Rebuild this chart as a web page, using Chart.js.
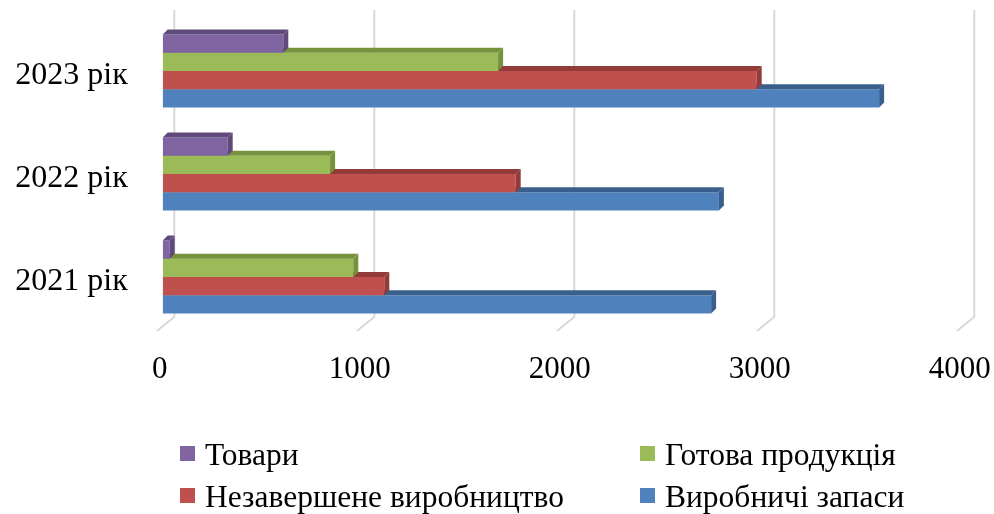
<!DOCTYPE html>
<html>
<head>
<meta charset="utf-8">
<script src="https://cdn.jsdelivr.net/npm/chart.js@4.4.0/dist/chart.umd.min.js"></script>
<style>
  html, body { margin: 0; padding: 0; background: #fff; }
</style>
</head>
<body>
<canvas id="chart" width="994" height="514"></canvas>
<script>
const years = ['2023 рік', '2022 рік', '2021 рік'];
const xTicks = [0, 1000, 2000, 3000, 4000];
const seriesNames = ['Товари', 'Готова продукція', 'Незавершене виробництво', 'Виробничі запаси'];
const tovary = [603, 325, 35];
const gotova = [1677, 837, 953];
const nezaversh = [2970, 1765, 1108];
const zapasy = [3582, 2781, 2742];
const colors = ['#8064A2', '#9BBB59', '#C0504D', '#4F81BD'];
const shades = ['#5F4A7B', '#76923C', '#923B39', '#3A5F8C'];

const FONT = '"Liberation Serif", "Times New Roman", serif';
const DX = 5, DY = 5;

// back-wall gridlines with a slanted floor segment
const grid3d = {
  id: 'grid3d',
  beforeDatasetsDraw(chart) {
    const ctx = chart.ctx;
    const sx = chart.scales.x;
    ctx.save();
    ctx.strokeStyle = '#D9D9D9';
    ctx.lineWidth = 2;
    xTicks.forEach(v => {
      const px = sx.getPixelForValue(v);
      ctx.beginPath();
      ctx.moveTo(px + 11.6, 10);
      ctx.lineTo(px + 11.6, 316.7);
      ctx.lineTo(px - 5.7, 331);
      ctx.stroke();
    });
    ctx.restore();
  }
};

// top and side faces for each bar
const bar3d = {
  id: 'bar3d',
  afterDatasetDraw(chart, args) {
    const ctx = chart.ctx;
    const shade = shades[args.index];
    ctx.save();
    args.meta.data.forEach(el => {
      const { x, y, base, height } = el.getProps(['x', 'y', 'base', 'height'], true);
      const top = y - height / 2, bottom = y + height / 2;
      ctx.fillStyle = shade;
      ctx.beginPath();
      ctx.moveTo(base, top);
      ctx.lineTo(x, top);
      ctx.lineTo(x + DX, top - DY);
      ctx.lineTo(base + DX, top - DY);
      ctx.closePath();
      ctx.fill();
      ctx.beginPath();
      ctx.moveTo(x, top);
      ctx.lineTo(x + DX, top - DY);
      ctx.lineTo(x + DX, bottom - DY);
      ctx.lineTo(x, bottom);
      ctx.closePath();
      ctx.fill();
    });
    ctx.restore();
  }
};

// two-column legend
const legend2col = {
  id: 'legend2col',
  afterDraw(chart) {
    const ctx = chart.ctx;
    const cols = [180, 640];
    const rows = [465, 507];
    ctx.save();
    ctx.font = '31.5px ' + FONT;
    ctx.textBaseline = 'alphabetic';
    chart.data.datasets.forEach((ds, i) => {
      const cx = cols[i % 2], cy = rows[Math.floor(i / 2)];
      ctx.fillStyle = ds.backgroundColor;
      ctx.fillRect(cx, cy - 19, 15, 15);
      ctx.fillStyle = '#000';
      ctx.fillText(ds.label, cx + 25, cy);
    });
    ctx.restore();
  }
};

const seriesValues = [tovary, gotova, nezaversh, zapasy];

new Chart(document.getElementById('chart'), {
  type: 'bar',
  data: {
    labels: years,
    datasets: seriesNames.map((name, i) => ({
      label: name,
      data: seriesValues[i],
      backgroundColor: colors[i],
      borderWidth: 0,
      categoryPercentage: 0.71,
      barPercentage: 1.0
    }))
  },
  options: {
    indexAxis: 'y',
    responsive: false,
    animation: false,
    devicePixelRatio: 1,
    layout: { padding: { left: 0, right: 31.3, top: 19.5, bottom: 128 } },
    plugins: {
      legend: { display: false },
      tooltip: { enabled: false }
    },
    scales: {
      x: {
        min: 0,
        max: 4000,
        afterBuildTicks: s => { s.ticks = xTicks.map(v => ({ value: v })); },
        afterFit: s => {
          s.height = 57.5;
          s.paddingLeft = 0;
          s.paddingRight = 0;
        },
        grid: { display: false, drawTicks: false },
        border: { display: false },
        ticks: {
          font: { family: FONT, size: 31 },
          color: '#000',
          padding: 23,
          labelOffset: -3,
          maxRotation: 0,
          callback: v => String(v)
        }
      },
      y: {
        afterFit: s => {
          s.width = 162.7;
          s.paddingTop = 0;
          s.paddingBottom = 0;
        },
        grid: { display: false, drawTicks: false },
        border: { display: false },
        ticks: {
          font: { family: FONT, size: 32 },
          color: '#000',
          padding: 35,
          labelOffset: 5
        }
      }
    }
  },
  plugins: [grid3d, bar3d, legend2col]
});
</script>
</body>
</html>
